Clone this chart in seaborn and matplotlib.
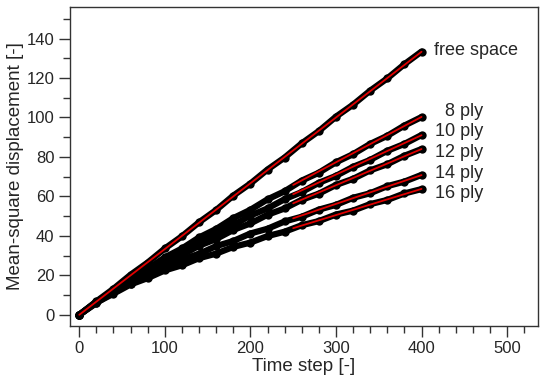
import matplotlib
matplotlib.use("Agg")
import matplotlib.pyplot as plt
import seaborn as sns
import pandas as pd
from matplotlib.ticker import MultipleLocator

# time steps where the simulated MSD was read off
steps = [0, 20, 40, 60, 80, 100, 120, 140, 160, 180, 200,
         220, 240, 260, 280, 300, 320, 340, 360, 380, 400]

msd_free = [0, 6.8, 13.2, 20.3, 26.5, 33.6, 39.8, 46.9, 53.1, 60.4, 66.5,
            73.6, 79.7, 86.9, 93.1, 100.4, 106.5, 113.6, 119.8, 127.0, 133.4]
msd_8 = [0, 6.6, 12.2, 18.4, 23.3, 29.1, 33.6, 39.2, 43.5, 49.0, 53.2,
         58.5, 62.6, 68.0, 72.0, 77.3, 81.4, 86.6, 90.7, 95.9, 100.2]
msd_10 = [0, 6.3, 12.4, 17.5, 23.1, 27.4, 32.7, 36.6, 41.7, 45.4, 50.3,
          53.9, 58.6, 62.2, 66.9, 70.4, 75.0, 78.5, 83.1, 86.6, 91.1]
msd_12 = [0, 6.5, 11.7, 17.3, 21.5, 26.6, 30.3, 35.0, 38.4, 43.0, 46.3,
          50.7, 53.9, 58.3, 61.4, 65.8, 68.9, 73.2, 76.3, 80.6, 84.0]
msd_14 = [0, 5.9, 11.6, 15.8, 20.6, 23.8, 28.0, 30.9, 34.8, 37.4, 41.2,
          43.6, 47.3, 49.7, 53.3, 55.7, 59.3, 61.6, 65.2, 67.5, 70.9]
msd_16 = [0, 6.2, 10.7, 15.4, 18.6, 22.5, 25.1, 28.7, 31.0, 34.4, 36.6,
          39.9, 42.1, 45.4, 47.5, 50.8, 52.8, 56.1, 58.2, 61.5, 63.7]

labels = ["free space", "8 ply", "10 ply", "12 ply", "14 ply", "16 ply"]
label_y = [134, 102.8, 92.8, 82.1, 71.8, 61.7]

# linear fits (red): free space over whole range, ply cases over late regime
fit_free_t = [0, 400]
fit_free = [0, 133.3]
fit_ply_t = [250, 400]
fit_8 = [65.8, 100.3]
fit_10 = [61.1, 91.0]
fit_12 = [56.5, 84.0]
fit_14 = [48.9, 70.8]
fit_16 = [43.9, 63.8]

sns.set_style("ticks")
plt.rcParams["font.family"] = ["Liberation Sans", "DejaVu Sans"]

fig = plt.figure(figsize=(5.5, 3.87), dpi=100)
ax = fig.add_axes([0.127, 0.158, 0.851, 0.824])

series = [msd_free, msd_8, msd_10, msd_12, msd_14, msd_16]
for vals, name in zip(series, labels):
    df = pd.DataFrame({"t": steps, "msd": vals})
    sns.lineplot(data=df, x="t", y="msd", ax=ax, color="black", lw=4.5,
                 marker="o", markersize=6, markeredgewidth=0)

fits = [(fit_free_t, fit_free), (fit_ply_t, fit_8), (fit_ply_t, fit_10),
        (fit_ply_t, fit_12), (fit_ply_t, fit_14), (fit_ply_t, fit_16)]
for t, v in fits:
    sns.lineplot(x=t, y=v, ax=ax, color="#e00000", lw=1.3)

ax.text(415, label_y[0], labels[0], fontsize=13, ha="left", va="center")
for name, y in zip(labels[1:], label_y[1:]):
    ax.text(472, y, name, fontsize=13, ha="right", va="center")

ax.set_xlim(-11, 536)
ax.set_ylim(-5.6, 156)
ax.xaxis.set_major_locator(MultipleLocator(100))
ax.xaxis.set_minor_locator(MultipleLocator(20))
ax.yaxis.set_major_locator(MultipleLocator(20))
ax.yaxis.set_minor_locator(MultipleLocator(10))
ax.set_yticks(range(0, 141, 20))
ax.tick_params(which="major", length=8, width=1, color="#333333", labelsize=12, pad=3)
ax.tick_params(which="minor", length=5, width=1, color="#333333")
for s in ax.spines.values():
    s.set_color("#333333")
    s.set_linewidth(1)

ax.set_xlabel("Time step [-]", fontsize=13.5, labelpad=1)
ax.set_ylabel("Mean-square displacement [-]", fontsize=13.5, labelpad=2)

fig.savefig("out.png", dpi=100)
